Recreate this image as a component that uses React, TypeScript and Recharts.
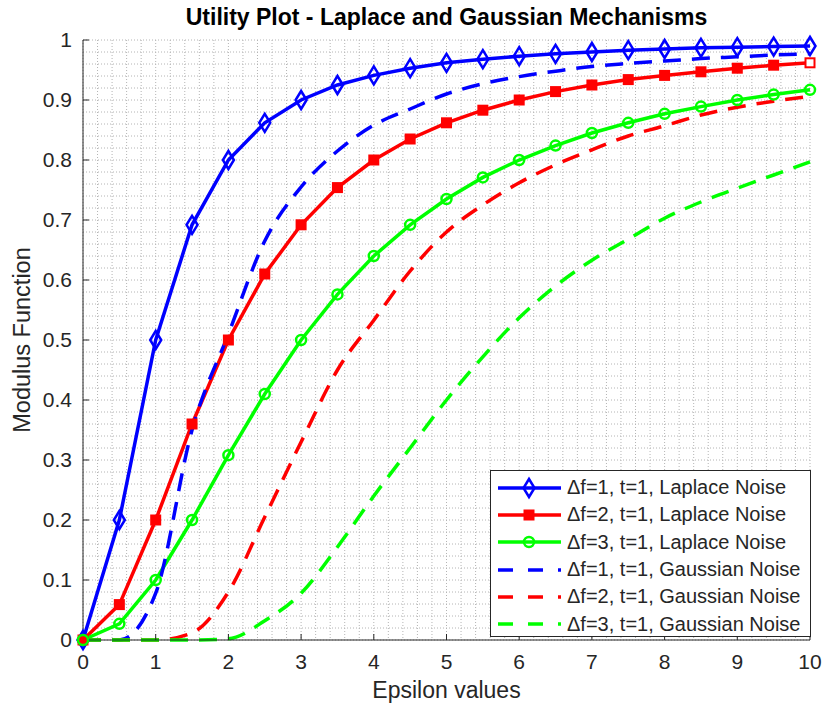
import React from 'react';
import { LineChart, Line, XAxis, YAxis, CartesianGrid, Legend } from 'recharts';

// epsilon grid used by every series
const epsilon = [0, 0.5, 1, 1.5, 2, 2.5, 3, 3.5, 4, 4.5, 5, 5.5, 6, 6.5, 7, 7.5, 8, 8.5, 9, 9.5, 10];

// Laplace noise (solid lines with markers)
const laplace1 = [0, 0.2, 0.5, 0.692, 0.8, 0.862, 0.9, 0.925, 0.941, 0.953, 0.962, 0.968, 0.973, 0.977, 0.98, 0.983, 0.985, 0.987, 0.988, 0.989, 0.99];
const laplace2 = [0, 0.059, 0.2, 0.36, 0.5, 0.61, 0.692, 0.754, 0.8, 0.835, 0.862, 0.883, 0.9, 0.914, 0.925, 0.934, 0.941, 0.947, 0.953, 0.958, 0.962];
const laplace3 = [0, 0.027, 0.1, 0.2, 0.308, 0.41, 0.5, 0.576, 0.64, 0.692, 0.735, 0.771, 0.8, 0.824, 0.845, 0.862, 0.877, 0.889, 0.9, 0.909, 0.917];

// Gaussian noise (dashed lines)
const gauss1 = [0, 0, 0.078, 0.35, 0.51, 0.665, 0.755, 0.815, 0.858, 0.885, 0.91, 0.927, 0.939, 0.948, 0.956, 0.961, 0.965, 0.969, 0.972, 0.975, 0.977];
const gauss2 = [0, 0, 0, 0.012, 0.08, 0.205, 0.33, 0.45, 0.533, 0.615, 0.68, 0.725, 0.762, 0.792, 0.817, 0.84, 0.857, 0.875, 0.888, 0.898, 0.906];
const gauss3 = [0, 0, 0, 0, 0.002, 0.032, 0.078, 0.155, 0.24, 0.32, 0.4, 0.472, 0.537, 0.59, 0.633, 0.668, 0.703, 0.73, 0.753, 0.775, 0.797];

const xTicks = [0, 1, 2, 3, 4, 5, 6, 7, 8, 9, 10];
const yTicks = [0, 0.1, 0.2, 0.3, 0.4, 0.5, 0.6, 0.7, 0.8, 0.9, 1];

const seriesNames = [
  'Δf=1, t=1, Laplace Noise',
  'Δf=2, t=1, Laplace Noise',
  'Δf=3, t=1, Laplace Noise',
  'Δf=1, t=1, Gaussian Noise',
  'Δf=2, t=1, Gaussian Noise',
  'Δf=3, t=1, Gaussian Noise',
];

const BLUE = '#0000ff';
const RED = '#ff0000';
const GREEN = '#00ff00';
const AXIS = '#262626';
const FONT = '"Liberation Sans", Arial, Helvetica, sans-serif';
const DASH = '18 11';

const data = epsilon.map((x, i) => ({
  x,
  l1: laplace1[i],
  l2: laplace2[i],
  l3: laplace3[i],
  g1: gauss1[i],
  g2: gauss2[i],
  g3: gauss3[i],
}));

// minor grid positions (MATLAB "grid minor")
const xMinor = Array.from({ length: 51 }, (_, i) => i * 0.2);
const yMinor = Array.from({ length: 51 }, (_, i) => i * 0.02);

const applyScale = (scale: any, v: number) =>
  typeof scale === 'function' ? scale(v) : scale?.map ? scale.map(v) : NaN;

function Diamond({ cx, cy }: any) {
  if (cx == null || cy == null) return null;
  return (
    <path
      d={`M${cx},${cy - 9}L${cx + 5.5},${cy}L${cx},${cy + 9}L${cx - 5.5},${cy}Z`}
      fill="none"
      stroke={BLUE}
      strokeWidth={2.5}
    />
  );
}

function Square({ cx, cy, index }: any) {
  if (cx == null || cy == null) return null;
  const last = index === epsilon.length - 1;
  return <rect x={cx - 4.5} y={cy - 4.5} width={9} height={9} fill={last ? '#fff' : RED} stroke={RED} strokeWidth={2} />;
}

function Circle({ cx, cy }: any) {
  if (cx == null || cy == null) return null;
  return <circle cx={cx} cy={cy} r={5} fill="none" stroke={GREEN} strokeWidth={2.5} />;
}

const legendRows = [
  { color: BLUE, dashed: false, marker: 'diamond' },
  { color: RED, dashed: false, marker: 'square' },
  { color: GREEN, dashed: false, marker: 'circle' },
  { color: BLUE, dashed: true, marker: null },
  { color: RED, dashed: true, marker: null },
  { color: GREEN, dashed: true, marker: null },
];

function LegendBox() {
  return (
    <div
      style={{
        boxSizing: 'border-box',
        width: 321,
        height: 167,
        border: `1px solid ${AXIS}`,
        background: '#fff',
        paddingTop: 3,
        paddingLeft: 6,
        fontFamily: FONT,
        fontSize: 20,
        color: AXIS,
      }}
    >
      {legendRows.map((r, i) => (
        <div key={i} style={{ display: 'flex', alignItems: 'center', height: 27.3, whiteSpace: 'nowrap' }}>
          <svg width={70} height={24} style={{ flex: 'none' }}>
            <line
              x1={1}
              y1={12}
              x2={64}
              y2={12}
              stroke={r.color}
              strokeWidth={3.5}
              strokeDasharray={r.dashed ? '15 15' : undefined}
            />
            {r.marker === 'diamond' && <Diamond cx={32} cy={12} />}
            {r.marker === 'square' && <Square cx={32} cy={12} index={0} />}
            {r.marker === 'circle' && <Circle cx={32} cy={12} />}
          </svg>
          <span>{seriesNames[i]}</span>
        </div>
      ))}
    </div>
  );
}

export default function App() {
  return (
    <div style={{ position: 'absolute', left: 0, top: 0, width: 827, height: 710, background: '#fff', fontFamily: FONT }}>
      <div
        style={{
          position: 'absolute',
          left: 83,
          width: 727,
          top: 4,
          textAlign: 'center',
          fontWeight: 'bold',
          fontSize: 23,
          color: '#000',
          zIndex: 2,
        }}
      >
        Utility Plot - Laplace and Gaussian Mechanisms
      </div>
      <LineChart width={827} height={710} data={data} margin={{ top: 40, right: 17, bottom: 0, left: 0 }}>
        <CartesianGrid
          stroke="#b4b4b4"
          strokeDasharray="1 2"
          verticalCoordinatesGenerator={({ xAxis }: any) => xMinor.map((v) => applyScale(xAxis.scale, v))}
          horizontalCoordinatesGenerator={({ yAxis }: any) => yMinor.map((v) => applyScale(yAxis.scale, v))}
        />
        <XAxis
          dataKey="x"
          type="number"
          domain={[0, 10]}
          ticks={xTicks}
          interval={0}
          height={70}
          stroke={AXIS}
          tickSize={-6}
          tickMargin={20}
          tick={{ fill: AXIS, fontSize: 21, fontFamily: FONT }}
          label={{
            content: ({ viewBox }: any) => (
              <text
                x={viewBox.x + viewBox.width / 2}
                y={viewBox.y + 58}
                textAnchor="middle"
                fill={AXIS}
                fontSize={23}
                fontFamily={FONT}
              >
                Epsilon values
              </text>
            ),
          }}
        />
        <YAxis
          type="number"
          domain={[0, 1]}
          ticks={yTicks}
          interval={0}
          width={83}
          stroke={AXIS}
          tickSize={-6}
          tickMargin={17}
          tick={{ fill: AXIS, fontSize: 21, fontFamily: FONT }}
          label={{
            content: ({ viewBox }: any) => (
              <text
                x={0}
                y={0}
                transform={`translate(${30}, ${viewBox.y + viewBox.height / 2}) rotate(-90)`}
                textAnchor="middle"
                fill={AXIS}
                fontSize={23.5}
                fontFamily={FONT}
              >
                Modulus Function
              </text>
            ),
          }}
        />
        <Legend
          layout="vertical"
          align="center"
          verticalAlign="middle"
          wrapperStyle={{ left: 490, top: 470, width: 321, height: 167 }}
          content={() => <LegendBox />}
        />
        <Line dataKey="l1" type="linear" stroke={BLUE} strokeWidth={3.5} dot={<Diamond />} activeDot={false} isAnimationActive={false} />
        <Line dataKey="l2" type="linear" stroke={RED} strokeWidth={3.5} dot={<Square />} activeDot={false} isAnimationActive={false} />
        <Line dataKey="l3" type="linear" stroke={GREEN} strokeWidth={3.5} dot={<Circle />} activeDot={false} isAnimationActive={false} />
        <Line dataKey="g1" type="monotone" stroke={BLUE} strokeWidth={3.5} strokeDasharray={DASH} dot={false} activeDot={false} isAnimationActive={false} />
        <Line dataKey="g2" type="monotone" stroke={RED} strokeWidth={3.5} strokeDasharray={DASH} dot={false} activeDot={false} isAnimationActive={false} />
        <Line dataKey="g3" type="monotone" stroke={GREEN} strokeWidth={3.5} strokeDasharray={DASH} dot={false} activeDot={false} isAnimationActive={false} />
      </LineChart>
    </div>
  );
}
